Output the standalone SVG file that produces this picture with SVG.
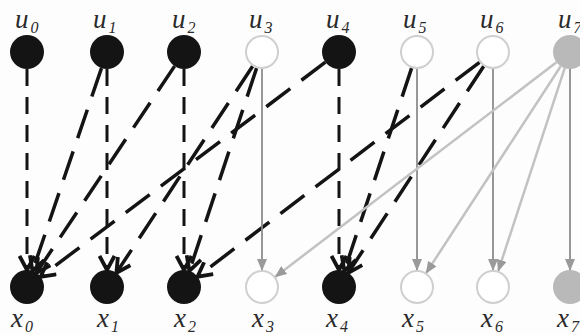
<svg xmlns="http://www.w3.org/2000/svg" width="580" height="335" viewBox="0 0 580 335">
<style>
.bg{fill:#fdfdfd}
.nb{fill:#141414}
.nw{fill:#ffffff;stroke:#cfcfcf;stroke-width:2}
.ng{fill:#b9b9b9}
.dv{stroke:#141414;stroke-width:3;fill:none;stroke-dasharray:17 11}
.dd{stroke:#141414;stroke-width:3.5;fill:none;stroke-dasharray:30 14}
.gv{stroke:#8c8c8c;stroke-width:1.8;fill:none}
.gd{stroke:#c2c2c2;stroke-width:2.5;fill:none}
.lbl{font-family:"Liberation Serif","DejaVu Serif",serif;font-style:italic;font-size:27px;fill:#2a2a2a}
.sub{font-size:16px}
</style>
<defs>
<marker id="ab" markerUnits="userSpaceOnUse" viewBox="0 0 18 18" refX="16" refY="9" markerWidth="18" markerHeight="18" orient="auto">
<path d="M2,1.5 L16,9 L2,16.5" fill="none" stroke="#141414" stroke-width="3.8" stroke-linejoin="miter"/>
</marker>
<marker id="ag" markerUnits="userSpaceOnUse" viewBox="0 0 12 10" refX="11" refY="5" markerWidth="12" markerHeight="10" orient="auto">
<path d="M0,0 L12,5 L0,10 z" fill="#9a9a9a"/>
</marker>
</defs>
<rect class="bg" x="0" y="0" width="580" height="335"/>
<g id="connectors">
<line class="dv" x1="27" y1="69" x2="27" y2="270" marker-end="url(#ab)"/>
<line class="dv" x1="107" y1="69" x2="107" y2="270" marker-end="url(#ab)"/>
<line class="dv" x1="184" y1="69" x2="184" y2="270" marker-end="url(#ab)"/>
<line class="dv" x1="339" y1="69" x2="339" y2="270" marker-end="url(#ab)"/>
<line class="dd" x1="101.5" y1="68.1" x2="32.5" y2="270.9" marker-end="url(#ab)"/>
<line class="dd" x1="174.6" y1="66.1" x2="36.4" y2="272.9" marker-end="url(#ab)"/>
<line class="dd" x1="325.4" y1="62.2" x2="40.6" y2="276.8" marker-end="url(#ab)"/>
<line class="dd" x1="252.6" y1="66.2" x2="116.4" y2="272.8" marker-end="url(#ab)"/>
<line class="dd" x1="256.6" y1="68.1" x2="189.4" y2="270.9" marker-end="url(#ab)"/>
<line class="dd" x1="411.6" y1="68.1" x2="344.4" y2="270.9" marker-end="url(#ab)"/>
<line class="dd" x1="483.7" y1="66.2" x2="348.3" y2="272.8" marker-end="url(#ab)"/>
<line class="dd" x1="479.5" y1="62.3" x2="197.5" y2="276.7" marker-end="url(#ab)"/>
<line class="gv" x1="262" y1="69" x2="262" y2="270" marker-end="url(#ag)"/>
<line class="gv" x1="417" y1="69" x2="417" y2="270" marker-end="url(#ag)"/>
<line class="gv" x1="493" y1="69" x2="493" y2="270" marker-end="url(#ag)"/>
<line class="gv" x1="570" y1="69" x2="570" y2="270" marker-end="url(#ag)"/>
<line class="gd" x1="556.5" y1="62.3" x2="275.5" y2="276.7" marker-end="url(#ag)"/>
<line class="gd" x1="560.7" y1="66.2" x2="426.3" y2="272.8" marker-end="url(#ag)"/>
<line class="gd" x1="564.7" y1="68.2" x2="498.3" y2="270.8" marker-end="url(#ag)"/>
</g>
<g id="u0"><circle class="nb" cx="27" cy="52" r="17"/><text class="lbl" x="15" y="28">u<tspan class="sub" dx="2" dy="5">0</tspan></text></g>
<g id="u1"><circle class="nb" cx="107" cy="52" r="17"/><text class="lbl" x="93" y="28">u<tspan class="sub" dx="2" dy="5">1</tspan></text></g>
<g id="u2"><circle class="nb" cx="184" cy="52" r="17"/><text class="lbl" x="172" y="28">u<tspan class="sub" dx="2" dy="5">2</tspan></text></g>
<g id="u3"><circle class="nw" cx="262" cy="52" r="16"/><text class="lbl" x="249" y="28">u<tspan class="sub" dx="2" dy="5">3</tspan></text></g>
<g id="u4"><circle class="nb" cx="339" cy="52" r="17"/><text class="lbl" x="326" y="28">u<tspan class="sub" dx="2" dy="5">4</tspan></text></g>
<g id="u5"><circle class="nw" cx="417" cy="52" r="16"/><text class="lbl" x="403" y="28">u<tspan class="sub" dx="2" dy="5">5</tspan></text></g>
<g id="u6"><circle class="nw" cx="493" cy="52" r="16"/><text class="lbl" x="480" y="28">u<tspan class="sub" dx="2" dy="5">6</tspan></text></g>
<g id="u7"><circle class="ng" cx="570" cy="52" r="17"/><text class="lbl" x="558" y="28">u<tspan class="sub" dx="2" dy="5">7</tspan></text></g>
<g id="x0"><circle class="nb" cx="27" cy="287" r="17"/><text class="lbl" x="11" y="327">x<tspan class="sub" dx="2" dy="5">0</tspan></text></g>
<g id="x1"><circle class="nb" cx="107" cy="287" r="17"/><text class="lbl" x="97" y="327">x<tspan class="sub" dx="2" dy="5">1</tspan></text></g>
<g id="x2"><circle class="nb" cx="184" cy="287" r="17"/><text class="lbl" x="174" y="327">x<tspan class="sub" dx="2" dy="5">2</tspan></text></g>
<g id="x3"><circle class="nw" cx="262" cy="287" r="16"/><text class="lbl" x="252" y="327">x<tspan class="sub" dx="2" dy="5">3</tspan></text></g>
<g id="x4"><circle class="nb" cx="339" cy="287" r="17"/><text class="lbl" x="326" y="327">x<tspan class="sub" dx="2" dy="5">4</tspan></text></g>
<g id="x5"><circle class="nw" cx="417" cy="287" r="16"/><text class="lbl" x="402" y="327">x<tspan class="sub" dx="2" dy="5">5</tspan></text></g>
<g id="x6"><circle class="nw" cx="493" cy="287" r="16"/><text class="lbl" x="481" y="327">x<tspan class="sub" dx="2" dy="5">6</tspan></text></g>
<g id="x7"><circle class="ng" cx="570" cy="287" r="17"/><text class="lbl" x="557" y="327">x<tspan class="sub" dx="2" dy="5">7</tspan></text></g>
</svg>
